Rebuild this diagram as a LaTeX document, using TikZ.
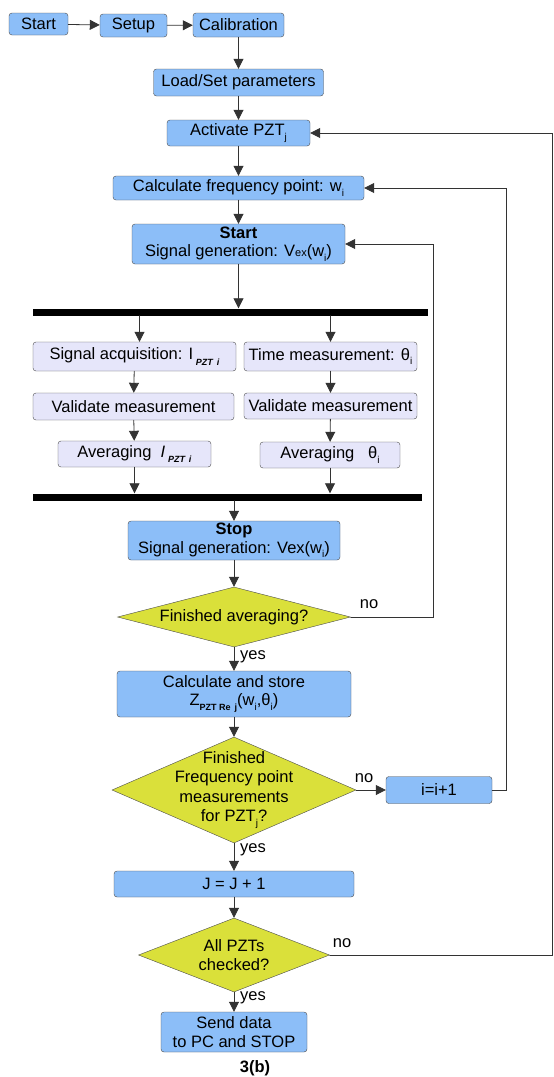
\documentclass[tikz,border=0pt]{standalone}
\usepackage{fontspec}
\setmainfont{Liberation Sans}
\usetikzlibrary{arrows.meta,shapes.geometric}

\newcommand{\lowsub}[1]{\raisebox{-0.55ex}{\fontsize{10}{10}\selectfont #1}}
\newcommand{\pztsub}[1]{\raisebox{-0.6ex}{\fontsize{9}{9}\selectfont\bfseries\itshape #1}}
\newcommand{\resub}[1]{\raisebox{-0.6ex}{\fontsize{9}{9}\selectfont\bfseries #1}}

\begin{document}
\begin{tikzpicture}
  [x=1pt,y=-1pt,line cap=round,
   % Styles
   every node/.style={font=\fontsize{16.5}{19.5}\selectfont},
   process/.style={draw=boxline,fill=procblue,rounded corners=3pt,inner sep=0pt,align=center},
   measure/.style={process,fill=measlilac},
   decision/.style={diamond,draw=boxline,fill=decyellow,inner sep=0pt,align=center},
   syncbar/.style={fill=black,inner sep=0pt,minimum height=7pt},
   flow/.style={draw=flowline,line width=0.8pt,-{Triangle[length=10pt,width=10pt]}},
   answer/.style={inner sep=1pt}]

  % Colors
  \definecolor{procblue}{RGB}{140,190,248}
  \definecolor{measlilac}{RGB}{230,230,250}
  \definecolor{decyellow}{RGB}{218,224,58}
  \colorlet{boxline}{black!70}
  \colorlet{flowline}{black!80}

  \useasboundingbox[fill=white] (0,0) rectangle (554,1077);

  % Set up
  \node[process,minimum width=59pt,minimum height=22pt] (start) at (38.5,24) {Start};
  \node[process,minimum width=67pt,minimum height=23pt] (setup) at (133.5,25.5) {Setup};
  \node[process,minimum width=91pt,minimum height=24pt] (calib) at (238.5,25) {Calibration};
  \node[process,minimum width=170pt,minimum height=27pt] (load) at (238.5,82.5) {Load/Set parameters};
  \node[process,minimum width=143pt,minimum height=26pt] (activate) at (238.5,133) {Activate PZT\lowsub{j}};
  \node[process,minimum width=251pt,minimum height=24pt] (calcfreq) at (238.5,188) {Calculate frequency point: w\lowsub{i}};
  \node[process,minimum width=213pt,minimum height=40pt] (siggen) at (238.5,244)
    {\textbf{Start}\\[-1pt]Signal generation: V{\fontsize{11}{11}\selectfont ex}(w\lowsub{i})};

  % Parallel measurement
  \node[syncbar,minimum width=395pt] (bar1) at (230.5,312) {};
  \node[measure,minimum width=203pt,minimum height=29pt] (sigacq) at (134.5,356.5)
    {Signal acquisition: I\,\pztsub{PZT\, i}};
  \node[measure,minimum width=173pt,minimum height=29pt] (timemeas) at (330.5,356.5)
    {Time measurement: θ\lowsub{i}};
  \node[measure,minimum width=201pt,minimum height=27pt] (valacq) at (133.5,406.5) {Validate measurement};
  \node[measure,minimum width=173pt,minimum height=26pt] (valtime) at (330.5,406) {Validate measurement};
  \node[measure,minimum width=153pt,minimum height=26pt] (avgacq) at (134.5,454)
    {Averaging\ \ \textit{I}\,\pztsub{PZT\, i}};
  \node[measure,minimum width=140pt,minimum height=26pt] (avgtime) at (330,455)
    {Averaging\ \ \ θ\lowsub{i}};
  \node[syncbar,minimum width=389pt] (bar2) at (227.5,497) {};

  % Evaluation
  \node[process,minimum width=212pt,minimum height=39pt] (stop) at (234,540.5)
    {\textbf{Stop}\\[-1pt]Signal generation: Vex(w\lowsub{i})};
  \node[decision,shape aspect=3.9,minimum width=233pt,minimum height=60pt] (avgdone) at (234,617)
    {Finished averaging?};
  \node[process,minimum width=234pt,minimum height=46pt] (store) at (234,694)
    {Calculate and store\\[-1pt]Z\resub{PZT Re\, j}(w\lowsub{i},θ\lowsub{i})};
  \node[decision,minimum width=244pt,minimum height=106pt] (freqdone) at (234,790) {};
  \node[align=center,inner sep=0pt] (freqtext) at (freqdone)
    {Finished\\Frequency point\\measurements\\for PZT\lowsub{j}?};
  \node[process,minimum width=106pt,minimum height=27pt] (iinc) at (439,790) {i=i+1};
  \node[process,minimum width=240pt,minimum height=26pt] (jinc) at (234,884) {J = J + 1};
  \node[decision,shape aspect=2.6,minimum width=191pt,minimum height=74pt] (pztdone) at (234,955)
    {All PZTs\\checked?};
  \node[process,minimum width=146pt,minimum height=40pt] (send) at (234,1032)
    {Send data\\[-1pt]to PC and STOP};
  \node[font=\fontsize{16.5}{19.5}\selectfont\bfseries] (caption) at (255,1068) {3(b)};

  % Loop corners
  \coordinate (avgloop) at (433,0);
  \coordinate (freqloop) at (506,0);
  \coordinate (pztloop) at (552,0);

  % Connectors
  \draw[flow] (start) -- (setup);
  \draw[flow] (setup) -- (calib);
  \draw[flow] (calib) -- (load);
  \draw[flow] (load) -- (activate);
  \draw[flow] (activate) -- (calcfreq);
  \draw[flow] (calcfreq) -- (siggen);
  \draw[flow] (siggen) -- (siggen |- bar1.north);
  \draw[flow] ([xshift=5pt]bar1.south -| sigacq) -- ([xshift=5pt]sigacq.north);
  \draw[flow] (bar1.south -| timemeas) -- (timemeas);
  \draw[flow] (sigacq) -- (valacq);
  \draw[flow] (timemeas) -- (valtime);
  \draw[flow] (valacq) -- (avgacq);
  \draw[flow] (valtime) -- (avgtime);
  \draw[flow] (avgacq) -- (avgacq |- bar2.north);
  \draw[flow] (avgtime) -- (avgtime |- bar2.north);
  \draw[flow] (bar2.south -| stop) -- (stop);
  \draw[flow] (stop) -- (avgdone);
  \draw[flow] (avgdone) -- (store);
  \draw[flow] (store) -- (freqdone);
  \draw[flow] (freqdone) -- (jinc);
  \draw[flow] (jinc) -- (pztdone);
  \draw[flow] (pztdone) -- (send);
  \draw[flow] (freqdone.east) -- (iinc.west);
  \draw[flow] (avgdone.east) -- (avgdone.east -| avgloop) |- (siggen.east);
  \draw[flow] (iinc.east) -- (iinc.east -| freqloop) |- (calcfreq.east);
  \draw[flow] (pztdone.east) -- (pztdone.east -| pztloop) |- (activate.east);

  % Answers
  \node[answer] (avgno) at (369,604) {no};
  \node[answer] (avgyes) at (253,657) {yes};
  \node[answer] (freqno) at (364,778) {no};
  \node[answer] (freqyes) at (253,850) {yes};
  \node[answer] (pztno) at (342,943) {no};
  \node[answer] (pztyes) at (253,998) {yes};
\end{tikzpicture}
\end{document}
